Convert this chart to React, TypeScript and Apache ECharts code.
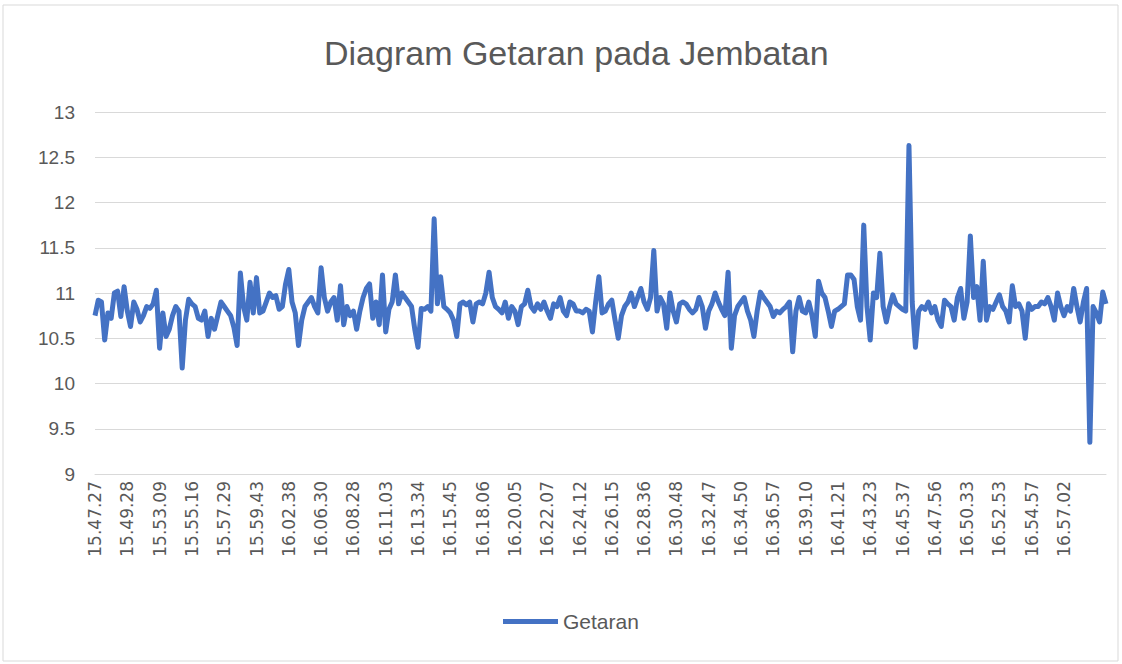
import React, { useEffect, useRef } from "react";
import * as echarts from "echarts";

const titleText = "Diagram Getaran pada Jembatan";
const seriesName = "Getaran";

// tick labels shown every 10 samples
const tickLabels = [
  "15.47.27", "15.49.28", "15.53.09", "15.55.16", "15.57.29", "15.59.43",
  "16.02.38", "16.06.30", "16.08.28", "16.11.03", "16.13.34", "16.15.45",
  "16.18.06", "16.20.05", "16.22.07", "16.24.12", "16.26.15", "16.28.36",
  "16.30.48", "16.32.47", "16.34.50", "16.36.57", "16.39.10", "16.41.21",
  "16.43.23", "16.45.37", "16.47.56", "16.50.33", "16.52.53", "16.54.57",
  "16.57.02", "",
];

const yTicks = { min: 9, max: 13, interval: 0.5 };

// vibration readings, 10 per labelled interval
const g00 = [10.75, 10.92, 10.9, 10.48, 10.78, 10.72, 11.0, 11.02, 10.74, 11.07];
const g01 = [10.8, 10.63, 10.9, 10.82, 10.68, 10.75, 10.85, 10.83, 10.88, 11.03];
const g02 = [10.39, 10.78, 10.52, 10.6, 10.75, 10.85, 10.8, 10.17, 10.7, 10.93];
const g03 = [10.88, 10.85, 10.72, 10.7, 10.8, 10.52, 10.72, 10.6, 10.75, 10.9];
const g04 = [10.85, 10.8, 10.75, 10.62, 10.42, 11.22, 10.85, 10.7, 11.12, 10.78];
const g05 = [11.17, 10.78, 10.8, 10.9, 11.0, 10.95, 10.97, 10.82, 10.85, 11.1];
const g06 = [11.26, 10.9, 10.78, 10.42, 10.7, 10.85, 10.9, 10.95, 10.85, 10.78];
const g07 = [11.28, 10.95, 10.8, 10.9, 10.95, 10.7, 11.08, 10.65, 10.85, 10.75];
const g08 = [10.8, 10.6, 10.8, 10.95, 11.05, 11.1, 10.72, 10.9, 10.65, 11.2];
const g09 = [10.57, 10.82, 10.9, 11.2, 10.88, 11.0, 10.95, 10.9, 10.85, 10.6];
const g10 = [10.4, 10.83, 10.82, 10.85, 10.8, 11.82, 10.88, 11.18, 10.85, 10.82];
const g11 = [10.78, 10.7, 10.52, 10.88, 10.9, 10.87, 10.9, 10.68, 10.88, 10.9];
const g12 = [10.88, 11.0, 11.23, 10.95, 10.85, 10.82, 10.78, 10.9, 10.72, 10.85];
const g13 = [10.8, 10.65, 10.85, 10.88, 11.03, 10.85, 10.8, 10.88, 10.82, 10.9];
const g14 = [10.8, 10.72, 10.88, 10.85, 10.95, 10.8, 10.75, 10.9, 10.88, 10.8];
const g15 = [10.8, 10.78, 10.82, 10.8, 10.57, 10.9, 11.18, 10.78, 10.8, 10.88];
const g16 = [10.92, 10.7, 10.5, 10.75, 10.85, 10.9, 11.0, 10.85, 10.95, 11.05];
const g17 = [10.9, 10.82, 10.95, 11.47, 10.8, 10.95, 10.88, 10.61, 11.0, 10.8];
const g18 = [10.68, 10.88, 10.9, 10.88, 10.82, 10.78, 10.82, 10.95, 10.85, 10.61];
const g19 = [10.8, 10.88, 11.0, 10.9, 10.82, 10.75, 11.23, 10.39, 10.75, 10.85];
const g20 = [10.9, 10.95, 10.8, 10.7, 10.52, 10.8, 11.01, 10.95, 10.9, 10.85];
const g21 = [10.74, 10.8, 10.78, 10.82, 10.85, 10.9, 10.35, 10.8, 10.95, 10.8];
const g22 = [10.78, 10.9, 10.75, 10.52, 11.13, 11.0, 10.95, 10.8, 10.63, 10.8];
const g23 = [10.82, 10.85, 10.88, 11.2, 11.2, 11.15, 10.85, 10.7, 11.75, 10.85];
const g24 = [10.48, 11.0, 10.95, 11.44, 10.85, 10.68, 10.85, 10.98, 10.88, 10.85];
const g25 = [10.82, 10.8, 12.63, 10.9, 10.4, 10.8, 10.85, 10.82, 10.9, 10.78];
const g26 = [10.85, 10.7, 10.63, 10.92, 10.88, 10.85, 10.7, 10.95, 11.05, 10.72];
const g27 = [10.9, 11.63, 10.95, 11.07, 10.7, 11.35, 10.7, 10.85, 10.82, 10.9];
const g28 = [10.98, 10.85, 10.8, 10.68, 11.08, 10.85, 10.88, 10.8, 10.5, 10.88];
const g29 = [10.82, 10.85, 10.85, 10.9, 10.88, 10.95, 10.85, 10.7, 11.0, 10.85];
const g30 = [10.75, 10.85, 10.8, 11.05, 10.85, 10.68, 10.9, 11.05, 9.35, 10.85];
const g31 = [10.78, 10.68, 11.01, 10.88];

const getaran = [
  ...g00, ...g01, ...g02, ...g03, ...g04, ...g05, ...g06, ...g07, ...g08, ...g09,
  ...g10, ...g11, ...g12, ...g13, ...g14, ...g15, ...g16, ...g17, ...g18, ...g19,
  ...g20, ...g21, ...g22, ...g23, ...g24, ...g25, ...g26, ...g27, ...g28, ...g29,
  ...g30, ...g31,
];

const LABEL_STEP = 10;
const categories = getaran.map((_, i) => String(i));

export default function App() {
  const ref = useRef<HTMLDivElement>(null);

  useEffect(() => {
    if (!ref.current) return;
    const chart = echarts.init(ref.current, null, { renderer: "svg" });
    const textColor = "#595959";
    const gridColor = "#d9d9d9";
    chart.setOption({
      animation: false,
      backgroundColor: "#ffffff",
      title: {
        text: titleText,
        left: 324,
        top: 36,
        padding: 0,
        textStyle: {
          fontFamily: "Liberation Sans",
          fontSize: 34,
          fontWeight: "normal",
          color: textColor,
        },
      },
      legend: {
        data: [seriesName],
        left: 503,
        top: 611,
        padding: 0,
        icon: "rect",
        itemWidth: 55,
        itemHeight: 5,
        itemGap: 6,
        textStyle: {
          fontFamily: "Liberation Sans",
          fontSize: 21,
          color: textColor,
        },
      },
      grid: { left: 95, right: 16, top: 112, bottom: 190, containLabel: false },
      xAxis: {
        type: "category",
        data: categories,
        boundaryGap: false,
        axisLine: { show: true, lineStyle: { color: gridColor, width: 1 } },
        axisTick: { show: false },
        axisLabel: {
          interval: LABEL_STEP - 1,
          rotate: 90,
          margin: 7,
          fontFamily: "DejaVu Sans",
          fontSize: 17,
          color: textColor,
          formatter: (_v: string, idx: number) =>
            idx % LABEL_STEP === 0 ? tickLabels[idx / LABEL_STEP] ?? "" : "",
        },
        splitLine: { show: false },
      },
      yAxis: {
        type: "value",
        min: yTicks.min,
        max: yTicks.max,
        interval: yTicks.interval,
        axisLine: { show: false },
        axisTick: { show: false },
        axisLabel: {
          margin: 20,
          fontFamily: "Liberation Sans",
          fontSize: 19,
          color: textColor,
        },
        splitLine: { show: true, lineStyle: { color: gridColor, width: 1 } },
      },
      series: [
        {
          name: seriesName,
          type: "line",
          data: getaran,
          showSymbol: false,
          symbol: "none",
          lineStyle: { color: "#4472C4", width: 5, join: "round" },
          itemStyle: { color: "#4472C4" },
        },
      ],
      graphic: [
        {
          type: "rect",
          shape: { x: 3, y: 5, width: 1115, height: 656 },
          style: { fill: "none", stroke: gridColor, lineWidth: 1 },
          silent: true,
        },
      ],
    });
    return () => chart.dispose();
  }, []);

  return (
    <div
      ref={ref}
      style={{ position: "fixed", left: 0, top: 0, width: 1122, height: 664 }}
    />
  );
}
